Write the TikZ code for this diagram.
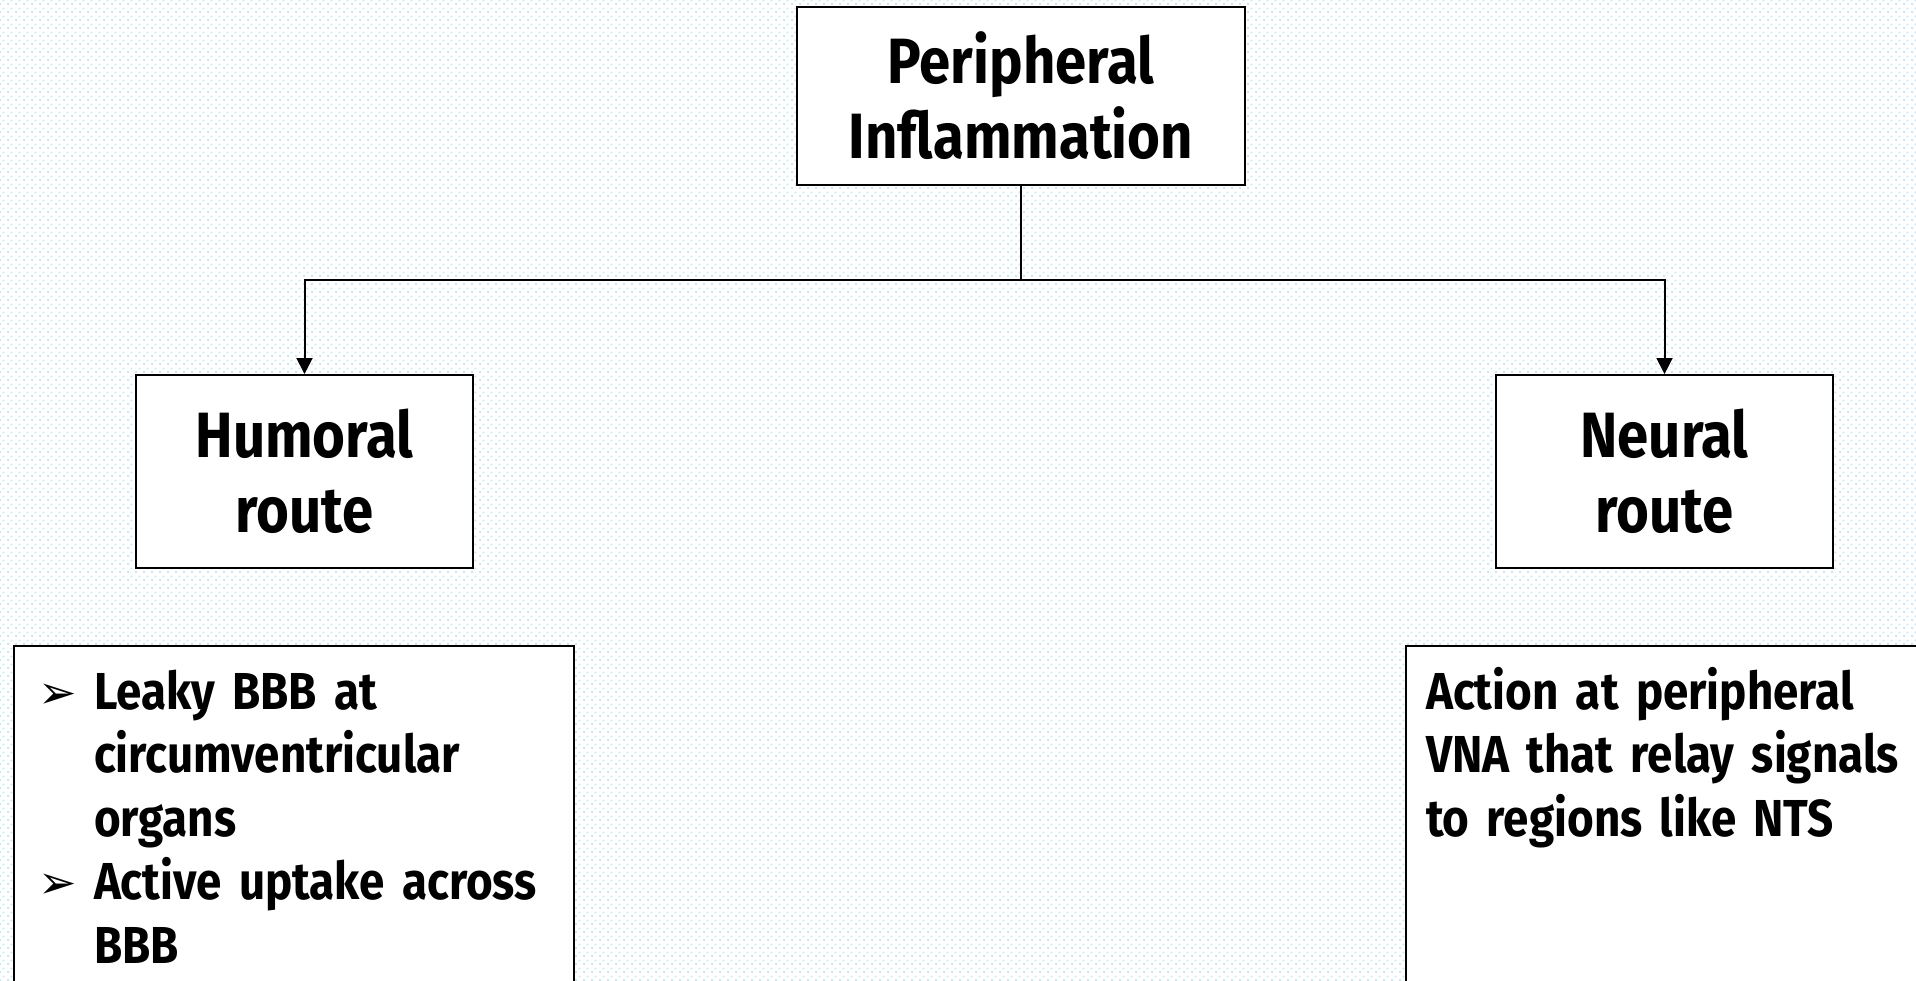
\documentclass[tikz,border=0pt]{standalone}
\usepackage{fontspec}
\setmainfont{Fira Sans}[FakeStretch=0.88]
\newfontfamily\dingfont{DejaVu Sans}
\usepackage{xcolor}
\usepackage{tikz}
\usetikzlibrary{positioning}
\usetikzlibrary{arrows.meta}
\usetikzlibrary{patterns}

\definecolor{dotblue}{RGB}{198,232,250}
\pgfdeclarepatternformonly{bgdots}{\pgfqpoint{0pt}{0pt}}{\pgfqpoint{8pt}{8pt}}{\pgfqpoint{8pt}{8pt}}{
    \pgfpathrectangle{\pgfqpoint{0pt}{0pt}}{\pgfqpoint{2pt}{2pt}}
    \pgfpathrectangle{\pgfqpoint{4pt}{4pt}}{\pgfqpoint{2pt}{2pt}}
    \pgfusepath{fill}
}

\newcommand{\routeitem}[1]{\hangindent=56pt\hangafter=1\noindent\makebox[56pt][l]{\dingfont\fontsize{46}{46}\selectfont\raisebox{1pt}{➢}}#1\par}

\tikzset{
    headbox/.style = {draw, fill = white, align = center, inner sep = 0pt,
                      font = \fontsize{64}{75}\selectfont\bfseries},
    listbox/.style = {draw, fill = white, anchor = north west, inner sep = 0pt},
    listtext/.style = {anchor = base west, align = left, inner sep = 0pt,
                       font = \fontsize{52}{63.5}\selectfont\bfseries}
}

\begin{document}
\begin{tikzpicture}[>={Triangle[length = 16pt, width = 16pt]},
                    x = 1pt, y = -1pt,
                    line width = 2pt]
    % Background with the dotted paper:
    \useasboundingbox (0,0) rectangle (1916,980);
    \fill [white] (0,0) rectangle (1916,980);
    \fill [pattern = bgdots, pattern color = dotblue] (0,0) rectangle (1916,980);
    \clip (0,0) rectangle (1916,980);

    % Draw the three heading boxes:
    \node [headbox, minimum width = 448pt, minimum height = 178pt] (inflam) at (1021,96) {Peripheral\\Inflammation};
    \node [headbox, minimum width = 337pt, minimum height = 193pt] (humoral) at (304.5,471.5) {Humoral\\route};
    \node [headbox, minimum width = 337pt, minimum height = 193pt] (neural) at (1664.5,471.5) {Neural\\route};

    % Draw the branching connector:
    \coordinate (split) at (1021,280);
    \draw (inflam.south) -- (split);
    \draw [->] (split) -| (humoral.north);
    \draw [->] (split) -| (neural.north);

    % Draw the two description boxes:
    \node [listbox, minimum width = 560pt, minimum height = 400pt] (humoralbox) at (13,645) {};
    \node [listbox, minimum width = 560pt, minimum height = 400pt] (neuralbox) at (1405,645) {};

    \node [listtext, text width = 540pt] (humoraltext) at (37,709) {%
        \routeitem{Leaky BBB at\newline circumventricular\newline organs}%
        \routeitem{Active uptake across\newline BBB}};
    \node [listtext, text width = 520pt] (neuraltext) at (1425,709) {Action at peripheral\\VNA that relay signals\\to regions like NTS};
\end{tikzpicture}
\end{document}
